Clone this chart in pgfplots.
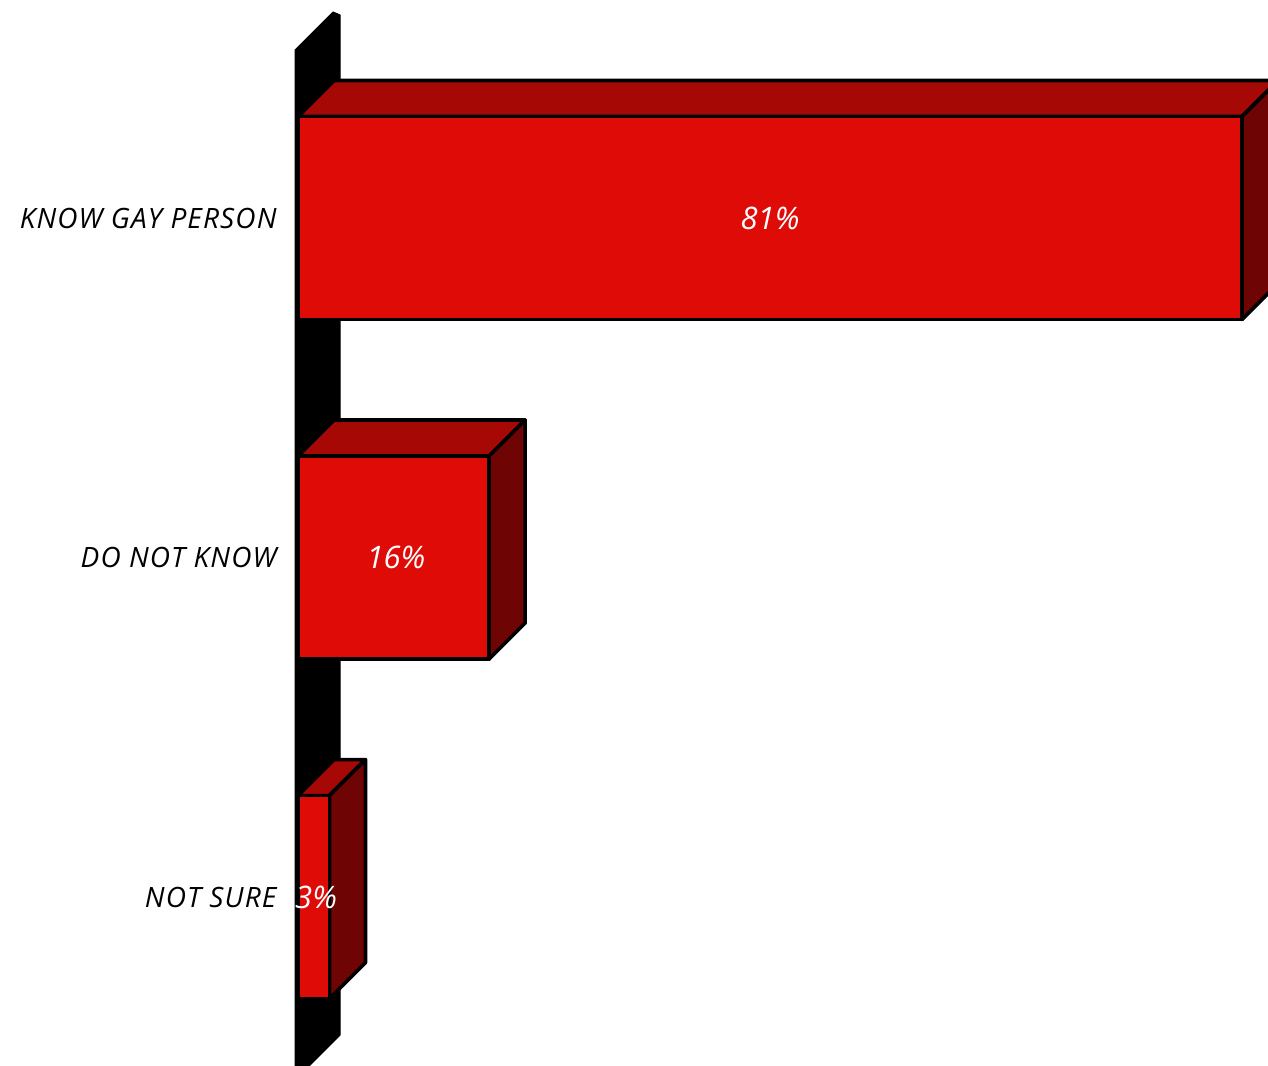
\documentclass[border=0pt]{standalone}
\usepackage{pgfplots}
\pgfplotsset{compat=1.18}
\usepackage{fontspec}
\setmainfont{Open Sans}
\definecolor{frontc}{HTML}{DE0B07}
\definecolor{topc}{HTML}{A60805}
\definecolor{sidec}{HTML}{6E0403}
\begin{document}
\begin{tikzpicture}
\begin{axis}[
  scale only axis, width=1268pt, height=1065pt,
  xmin=-25.571, xmax=83.233, ymin=-0.4948, ymax=2.6421,
  ticks=none, axis line style={draw=none}, clip=true,
]
% wall
\addplot[fill=black, draw=black, line width=1pt, line join=round]
  coordinates {(-0.257,-0.539) (-0.257,2.4948) (3.003,2.6068) (3.604,2.598) (3.604,-0.4065)} -- cycle;
% top faces
\addplot[fill=topc, draw=black, line width=3.6pt, line join=round]
  coordinates {(0,2.299) (81,2.299) (84.089,2.405) (3.089,2.405)} -- cycle;
\addplot[fill=topc, draw=black, line width=3.6pt, line join=round]
  coordinates {(0,1.299) (16.4,1.299) (19.489,1.405) (3.089,1.405)} -- cycle;
\addplot[fill=topc, draw=black, line width=3.6pt, line join=round]
  coordinates {(0,0.299) (2.7,0.299) (5.789,0.405) (3.089,0.405)} -- cycle;
% side faces
\addplot[fill=sidec, draw=black, line width=3.6pt, line join=round]
  coordinates {(81,1.701) (81,2.299) (84.089,2.405) (84.089,1.807)} -- cycle;
\addplot[fill=sidec, draw=black, line width=3.6pt, line join=round]
  coordinates {(16.4,0.701) (16.4,1.299) (19.489,1.405) (19.489,0.807)} -- cycle;
\addplot[fill=sidec, draw=black, line width=3.6pt, line join=round]
  coordinates {(2.7,-0.299) (2.7,0.299) (5.789,0.405) (5.789,-0.193)} -- cycle;
% front faces
\addplot[xbar, bar width=0.598, fill=frontc, draw=black, line width=3.6pt, line join=round]
  coordinates {(81,2) (16.4,1) (2.7,0)};
% value labels
\addplot[only marks, mark=*, mark size=0pt, mark options={draw=none,fill=none},
  point meta=explicit symbolic,
  nodes near coords={\pgfplotspointmeta\%},
  every node near coord/.append style={anchor=center, text=white, font=\fontsize{31}{36}\selectfont\itshape}]
  coordinates {(40.5,2)[81] (8.4,1)[16] (1.55,0)[3]};
% category labels
\addplot[only marks, mark=*, mark size=0pt, mark options={draw=none,fill=none},
  point meta=explicit symbolic,
  nodes near coords,
  every node near coord/.append style={anchor=east, text=black, font=\fontsize{28}{33}\selectfont\itshape\addfontfeature{LetterSpace=4}}]
  coordinates {(-1.55,2)[KNOW GAY PERSON] (-1.55,1)[DO NOT KNOW] (-1.55,0)[NOT SURE]};
\end{axis}
\end{tikzpicture}
\end{document}
